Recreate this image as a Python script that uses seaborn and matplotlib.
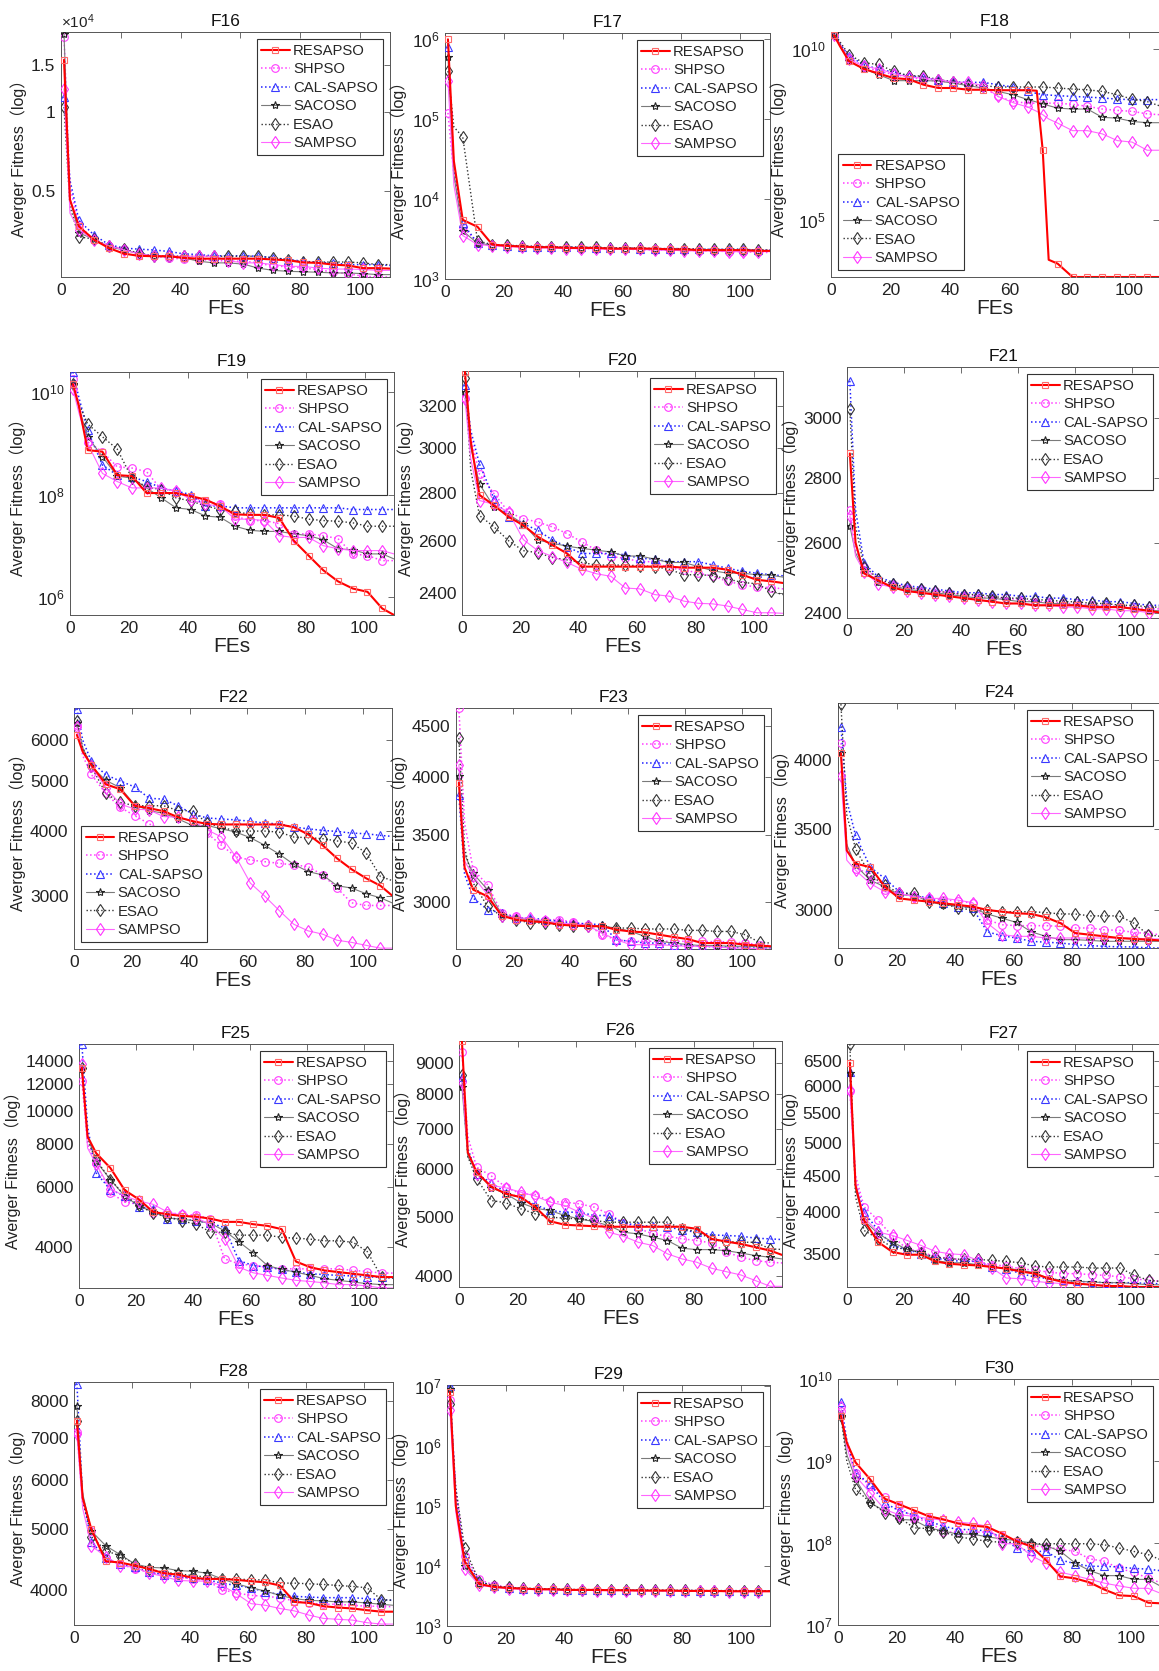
import numpy as np
import pandas as pd
import matplotlib
matplotlib.use('Agg')
import matplotlib.pyplot as plt
import seaborn as sns

sns.set_style('white')
plt.rcParams['font.family'] = ['Liberation Sans', 'Noto Sans CJK SC', 'DejaVu Sans']
plt.rcParams['mathtext.fontset'] = 'custom'
plt.rcParams['mathtext.rm'] = 'Liberation Sans'
plt.rcParams['mathtext.it'] = 'Liberation Sans:italic'
plt.rcParams['axes.unicode_minus'] = False

# FEs where the curves were read (markers sit at 1, 6, 11, ..., 106)
FES = [1, 3, 6, 11, 16, 21, 26, 31, 36, 41, 46, 51, 56, 61, 66, 71, 76, 81, 86, 91, 96, 101, 106, 110]
# F18 has a very sharp drop near FEs 70, so it was read at two extra points
FES_F18 = [1, 3, 6, 11, 16, 21, 26, 31, 36, 41, 46, 51, 56, 61, 66, 69, 71, 73, 76, 81, 86, 91, 96, 101, 106, 110]

ALGOS = ['RESAPSO', 'SHPSO', 'CAL-SAPSO', 'SACOSO', 'ESAO', 'SAMPSO']

# ---------------- F16 ----------------
F16_RESAPSO = [15700, 4650, 3680, 3280, 3050, 2905, 2850, 2840, 2840, 2800, 2780, 2780, 2780, 2780, 2780, 2760, 2740, 2690, 2680, 2640, 2620, 2560, 2560, 2550]
F16_SHPSO = [19200, 5200, 3740, 3260, 3110, 3020, 2900, 2840, 2800, 2770, 2760, 2740, 2720, 2720, 2680, 2600, 2600, 2560, 2530, 2470, 2440, 2385, 2370, 2370]
F16_CAL = [11400, 5500, 3880, 3420, 3140, 3050, 3020, 3000, 2960, 2900, 2880, 2850, 2850, 2850, 2840, 2800, 2760, 2720, 2690, 2680, 2640, 2640, 2640, 2620]
F16_SACOSO = [19700, 4650, 3475, 3300, 3080, 3000, 2900, 2840, 2820, 2800, 2720, 2680, 2680, 2650, 2560, 2510, 2490, 2480, 2470, 2455, 2455, 2440, 2420, 2420]
F16_ESAO = [10400, 4380, 3360, 3300, 3100, 3020, 2920, 2850, 2850, 2840, 2840, 2840, 2840, 2840, 2840, 2800, 2760, 2700, 2700, 2700, 2700, 2680, 2640, 2640]
F16_SAMPSO = [12200, 4130, 3580, 3260, 3110, 3000, 2900, 2850, 2840, 2840, 2840, 2840, 2730, 2680, 2680, 2640, 2600, 2600, 2560, 2540, 2540, 2530, 2510, 2510]

# ---------------- F17 ----------------
F17_RESAPSO = [1.0e6, 3e4, 5500, 4500, 2700, 2600, 2550, 2500, 2500, 2450, 2450, 2450, 2400, 2400, 2400, 2400, 2350, 2350, 2300, 2300, 2300, 2300, 2250, 2250]
F17_SHPSO = [1.2e5, 2e4, 4500, 2900, 2650, 2600, 2550, 2500, 2500, 2450, 2400, 2400, 2400, 2350, 2350, 2300, 2300, 2300, 2250, 2250, 2200, 2200, 2150, 2150]
F17_CAL = [8e5, 2.5e4, 5000, 2800, 2650, 2600, 2550, 2550, 2500, 2500, 2500, 2450, 2450, 2450, 2400, 2400, 2400, 2400, 2350, 2350, 2350, 2350, 2300, 2300]
F17_SACOSO = [6e5, 2e4, 4000, 2800, 2650, 2600, 2550, 2500, 2500, 2450, 2450, 2450, 2400, 2400, 2400, 2350, 2350, 2350, 2300, 2300, 2300, 2250, 2250, 2250]
F17_ESAO = [4e5, 8e4, 6e4, 3000, 2700, 2650, 2600, 2550, 2550, 2500, 2500, 2500, 2450, 2450, 2450, 2400, 2400, 2400, 2350, 2350, 2350, 2350, 2300, 2300]
F17_SAMPSO = [3e5, 1.5e4, 3500, 2700, 2600, 2550, 2500, 2450, 2450, 2400, 2400, 2400, 2350, 2350, 2350, 2300, 2300, 2250, 2250, 2250, 2200, 2200, 2200, 2200]

# ---------------- F18 (read on FES_F18) ----------------
F18_RESAPSO = [2.5e10, 1.2e10, 4.4e9, 2.6e9, 1.9e9, 1.4e9, 1.3e9, 9e8, 7.2e8, 7.2e8, 6.4e8, 6.4e8, 6.2e8, 6.2e8, 6.2e8, 6.0e8, 1.1e7, 7000, 5400, 2200, 2200, 2200, 2200, 2200, 2200, 2200]
F18_SHPSO = [3.3e10, 1.5e10, 5.5e9, 3.1e9, 2.2e9, 1.8e9, 1.5e9, 1.26e9, 1.13e9, 1.06e9, 9e8, 7.7e8, 4.1e8, 2.9e8, 2.6e8, 2.6e8, 2.6e8, 2.6e8, 2.6e8, 2.4e8, 2.1e8, 1.75e8, 1.6e8, 1.5e8, 1.27e8, 1.2e8]
F18_CAL = [2.9e10, 1.4e10, 6.1e9, 3.5e9, 2.5e9, 2.1e9, 1.6e9, 1.5e9, 1.2e9, 1.1e9, 1.05e9, 1.05e9, 9e8, 7.7e8, 5.7e8, 5.0e8, 4.6e8, 4.5e8, 4.3e8, 4.1e8, 3.9e8, 3.7e8, 3.4e8, 3.3e8, 3.3e8, 3.3e8]
F18_SACOSO = [2.9e10, 1.3e10, 4.4e9, 2.6e9, 1.76e9, 1.18e9, 1.18e9, 1.18e9, 1.15e9, 1.0e9, 8.4e8, 7.2e8, 5.7e8, 4.6e8, 3.3e8, 2.8e8, 2.5e8, 2.2e8, 1.87e8, 1.75e8, 1.75e8, 1.0e8, 9.5e7, 7.6e7, 7e7, 7e7]
F18_ESAO = [2.9e10, 1.6e10, 6.8e9, 3.9e9, 3.5e9, 2.2e9, 1.65e9, 1.6e9, 1.26e9, 1.1e9, 9e8, 8.4e8, 7.7e8, 7.7e8, 7.7e8, 7.7e8, 7.7e8, 7.5e8, 7.2e8, 6.7e8, 6.4e8, 5.7e8, 4.6e8, 3.4e8, 2.9e8, 2.2e8]
F18_SAMPSO = [2.6e10, 1.2e10, 4.9e9, 3.1e9, 2.6e9, 1.9e9, 1.5e9, 1.4e9, 1.26e9, 1.06e9, 1.06e9, 8.4e8, 4.1e8, 2.7e8, 2e8, 1.5e8, 1.2e8, 9e7, 6.8e7, 4.1e7, 4.1e7, 3.3e7, 2.1e7, 1.9e7, 1.1e7, 1.1e7]

# ---------------- F19 ----------------
F19_RESAPSO = [1.45e10, 5.5e9, 7.4e8, 6.9e8, 2.4e8, 2.3e8, 1.07e8, 1.07e8, 1.07e8, 9.3e7, 8e7, 5.9e7, 4.1e7, 4e7, 4e7, 3.5e7, 1.25e7, 6.4e6, 3.3e6, 2e6, 1.45e6, 1.25e6, 5.9e5, 4.4e5]
F19_SHPSO = [1.8e10, 6e9, 1.07e9, 6.9e8, 3.5e8, 3.3e8, 2.8e8, 1.25e8, 1.2e8, 8.6e7, 7.5e7, 6.4e7, 3.8e7, 3.1e7, 3.1e7, 2.7e7, 1.7e7, 1.7e7, 1.57e7, 1.37e7, 6.9e6, 6.4e6, 5.1e6, 5.1e6]
F19_CAL = [2.5e10, 8e9, 1.8e9, 3.8e8, 2.4e8, 2.2e8, 1.8e8, 1.35e8, 1.17e8, 1e8, 6e7, 6e7, 5.5e7, 5.5e7, 5.5e7, 5.5e7, 5.5e7, 5.5e7, 5.5e7, 5.5e7, 5.1e7, 5.1e7, 5.1e7, 5.1e7]
F19_SACOSO = [1.45e10, 5e9, 1.35e9, 5.5e8, 2.3e8, 2.1e8, 1.35e8, 8.6e7, 5.5e7, 5.1e7, 3.8e7, 3.6e7, 2.4e7, 2e7, 1.9e7, 1.9e7, 1.7e7, 1.57e7, 1.3e7, 8.7e6, 8.3e6, 6.9e6, 6.9e6, 5.5e6]
F19_ESAO = [1.45e10, 6e9, 2.4e9, 1.35e9, 7.8e8, 2.1e8, 1.4e8, 1.25e8, 8.6e7, 7.5e7, 6e7, 5.1e7, 4.7e7, 4.1e7, 4e7, 4e7, 3.8e7, 3.3e7, 3.1e7, 3e7, 2.8e7, 2.4e7, 2.4e7, 2.4e7]
F19_SAMPSO = [1.16e10, 4e9, 1e9, 2.6e8, 1.8e8, 1.35e8, 1.35e8, 1.35e8, 1.17e8, 8e7, 6.4e7, 6e7, 3.3e7, 3.3e7, 3.1e7, 1.57e7, 1.45e7, 1.45e7, 1e7, 8.7e6, 8e6, 8e6, 8e6, 6.9e6]

# ---------------- F20 ----------------
F20_RESAPSO = [3370, 3030, 2790, 2745, 2697, 2663, 2616, 2583, 2550, 2499, 2499, 2499, 2499, 2499, 2499, 2499, 2495, 2495, 2495, 2487, 2468, 2449, 2443, 2437]
F20_SHPSO = [3240, 3050, 2880, 2795, 2717, 2690, 2676, 2656, 2629, 2596, 2563, 2538, 2531, 2518, 2518, 2493, 2487, 2474, 2462, 2443, 2431, 2421, 2420, 2415]
F20_CAL = [3304, 3080, 2925, 2773, 2697, 2669, 2642, 2603, 2576, 2550, 2550, 2550, 2545, 2531, 2528, 2518, 2518, 2518, 2505, 2493, 2481, 2474, 2468, 2464]
F20_SACOSO = [3270, 3000, 2837, 2738, 2707, 2669, 2603, 2590, 2579, 2570, 2563, 2556, 2540, 2540, 2528, 2515, 2515, 2499, 2483, 2474, 2474, 2468, 2466, 2459]
F20_ESAO = [3340, 2900, 2703, 2656, 2600, 2561, 2553, 2534, 2525, 2515, 2505, 2505, 2505, 2502, 2499, 2489, 2468, 2468, 2465, 2452, 2439, 2434, 2406, 2394]
F20_SAMPSO = [3234, 2950, 2766, 2750, 2717, 2605, 2561, 2538, 2515, 2489, 2472, 2462, 2418, 2415, 2394, 2388, 2370, 2362, 2360, 2352, 2340, 2328, 2328, 2326]

# ---------------- F21 ----------------
F21_RESAPSO = [2880, 2600, 2510, 2490, 2470, 2460, 2455, 2450, 2445, 2440, 2435, 2430, 2425, 2425, 2420, 2420, 2420, 2420, 2415, 2415, 2415, 2410, 2405, 2400]
F21_SHPSO = [2700, 2580, 2530, 2490, 2480, 2470, 2465, 2460, 2455, 2450, 2445, 2440, 2440, 2435, 2430, 2430, 2425, 2425, 2420, 2420, 2415, 2415, 2410, 2410]
F21_CAL = [3130, 2700, 2540, 2500, 2485, 2475, 2470, 2465, 2460, 2455, 2455, 2450, 2450, 2445, 2445, 2440, 2440, 2435, 2435, 2430, 2430, 2425, 2420, 2420]
F21_SACOSO = [2650, 2570, 2520, 2485, 2475, 2465, 2460, 2455, 2450, 2445, 2440, 2440, 2435, 2430, 2430, 2425, 2425, 2420, 2420, 2415, 2415, 2410, 2405, 2405]
F21_ESAO = [3030, 2650, 2530, 2495, 2480, 2470, 2465, 2460, 2455, 2450, 2450, 2445, 2440, 2440, 2435, 2435, 2430, 2430, 2425, 2425, 2420, 2420, 2415, 2415]
F21_SAMPSO = [2680, 2560, 2515, 2480, 2470, 2460, 2455, 2450, 2445, 2440, 2435, 2430, 2425, 2425, 2420, 2420, 2415, 2415, 2410, 2410, 2405, 2405, 2400, 2400]

# ---------------- F22 ----------------
F22_RESAPSO = [6140, 5700, 5370, 4926, 4820, 4478, 4430, 4370, 4254, 4180, 4131, 4120, 4120, 4120, 4120, 4120, 4071, 3942, 3755, 3542, 3375, 3243, 3136, 3003]
F22_SHPSO = [6415, 5600, 5147, 4730, 4445, 4285, 4131, 4000, 3990, 3982, 3965, 3755, 3568, 3516, 3490, 3465, 3440, 3415, 3290, 3104, 2906, 2872, 2872, 2872]
F22_CAL = [6900, 6000, 5458, 5137, 5000, 4868, 4630, 4610, 4478, 4317, 4241, 4222, 4204, 4180, 4143, 4131, 4071, 4041, 4012, 3994, 3965, 3953, 3924, 3907]
F22_SACOSO = [6460, 5800, 5336, 5013, 4854, 4497, 4381, 4330, 4222, 4101, 4101, 4041, 3982, 3884, 3755, 3610, 3450, 3340, 3290, 3136, 3104, 3027, 2972, 2906]
F22_ESAO = [6530, 5800, 5336, 4730, 4544, 4478, 4478, 4478, 4381, 4381, 4143, 4071, 4000, 4000, 4000, 3982, 3896, 3884, 3867, 3828, 3794, 3632, 3267, 3210]
F22_SAMPSO = [6370, 5700, 5336, 4854, 4511, 4413, 4394, 4267, 4254, 4192, 4024, 3896, 3568, 3173, 2993, 2808, 2642, 2565, 2528, 2460, 2437, 2405, 2375, 2375]

# ---------------- F23 ----------------
F23_RESAPSO = [3950, 3250, 3089, 3042, 2909, 2883, 2872, 2866, 2850, 2844, 2840, 2840, 2817, 2806, 2800, 2785, 2770, 2757, 2732, 2732, 2732, 2722, 2716, 2712]
F23_SHPSO = [4690, 3600, 3234, 3124, 2927, 2905, 2883, 2883, 2883, 2866, 2850, 2785, 2753, 2743, 2743, 2743, 2743, 2743, 2743, 2740, 2740, 2732, 2722, 2716]
F23_CAL = [3836, 3200, 3030, 2950, 2927, 2894, 2894, 2883, 2872, 2861, 2855, 2850, 2753, 2743, 2732, 2732, 2722, 2716, 2712, 2708, 2708, 2701, 2701, 2701]
F23_SACOSO = [4008, 3350, 3206, 3089, 2916, 2894, 2883, 2872, 2861, 2855, 2844, 2840, 2828, 2806, 2774, 2743, 2732, 2722, 2716, 2716, 2712, 2712, 2708, 2708]
F23_ESAO = [4377, 3400, 3136, 2973, 2905, 2883, 2861, 2861, 2850, 2844, 2840, 2836, 2828, 2828, 2822, 2822, 2822, 2813, 2813, 2806, 2806, 2785, 2736, 2732]
F23_SAMPSO = [4117, 3300, 3185, 3053, 2909, 2894, 2894, 2872, 2861, 2855, 2844, 2796, 2753, 2722, 2722, 2722, 2716, 2712, 2712, 2708, 2701, 2701, 2695, 2695]

# ---------------- F24 ----------------
F24_RESAPSO = [4050, 3362, 3278, 3257, 3136, 3067, 3057, 3048, 3038, 3029, 3019, 3000, 2990, 2981, 2977, 2958, 2925, 2870, 2861, 2852, 2843, 2838, 2834, 2830]
F24_SHPSO = [4130, 3400, 3247, 3217, 3116, 3097, 3077, 3067, 3057, 3053, 3038, 2944, 2916, 2911, 2911, 2911, 2907, 2898, 2898, 2888, 2885, 2874, 2867, 2861]
F24_CAL = [4263, 3700, 3460, 3257, 3186, 3106, 3087, 3067, 3038, 3019, 3010, 2877, 2855, 2843, 2825, 2820, 2816, 2807, 2802, 2798, 2795, 2795, 2789, 2789]
F24_SACOSO = [4051, 3400, 3268, 3176, 3136, 3087, 3087, 3048, 3029, 3023, 3010, 2977, 2953, 2929, 2877, 2852, 2834, 2834, 2830, 2825, 2825, 2825, 2825, 2825]
F24_ESAO = [4450, 3600, 3373, 3206, 3146, 3097, 3097, 3048, 3038, 3010, 3000, 3000, 2990, 2990, 2990, 2985, 2977, 2977, 2966, 2966, 2966, 2925, 2861, 2852]
F24_SAMPSO = [3876, 3300, 3237, 3156, 3106, 3097, 3077, 3067, 3067, 3057, 3042, 2925, 2861, 2852, 2852, 2843, 2843, 2843, 2843, 2843, 2843, 2843, 2838, 2838]

# ---------------- F25 ----------------
F25_RESAPSO = [13400, 8421, 7537, 6820, 5875, 5521, 5073, 4995, 4940, 4918, 4853, 4747, 4747, 4673, 4622, 4520, 3635, 3500, 3424, 3386, 3349, 3312, 3275, 3275]
F25_SHPSO = [12240, 8000, 7050, 5772, 5426, 5340, 5051, 5051, 4995, 4962, 4853, 3701, 3579, 3540, 3500, 3462, 3462, 3462, 3462, 3462, 3424, 3400, 3364, 3364]
F25_CAL = [15700, 9000, 6595, 5900, 5645, 5258, 5165, 4853, 4853, 4778, 4705, 4570, 3660, 3540, 3500, 3447, 3386, 3349, 3330, 3312, 3300, 3275, 3275, 3255]
F25_SACOSO = [13280, 8500, 7130, 6309, 5645, 5281, 5073, 4875, 4832, 4778, 4705, 4470, 4153, 3855, 3540, 3447, 3386, 3312, 3239, 3203, 3168, 3133, 3113, 3113]
F25_ESAO = [13400, 8200, 7200, 6309, 5670, 5305, 5030, 4918, 4778, 4673, 4440, 4421, 4342, 4342, 4342, 4275, 4253, 4228, 4180, 4180, 4138, 3886, 3275, 3255]
F25_SAMPSO = [13700, 7800, 7000, 5925, 5645, 5465, 5340, 5073, 4962, 4875, 4673, 4228, 3500, 3371, 3312, 3255, 3203, 3180, 3150, 3113, 3113, 3085, 3043, 3043]

# ---------------- F26 ----------------
F26_RESAPSO = [9780, 6400, 5937, 5615, 5465, 5396, 5194, 4922, 4857, 4842, 4830, 4820, 4820, 4820, 4820, 4820, 4820, 4781, 4602, 4555, 4514, 4457, 4400, 4329]
F26_SHPSO = [9390, 6800, 6050, 5850, 5603, 5465, 5450, 5308, 5294, 5260, 5194, 5063, 4892, 4793, 4690, 4650, 4602, 4573, 4530, 4378, 4290, 4236, 4209, 4198]
F26_CAL = [8536, 6500, 5900, 5700, 5488, 5383, 5240, 5128, 5095, 5095, 5031, 5031, 4892, 4842, 4830, 4820, 4758, 4720, 4673, 4661, 4650, 4614, 4602, 4590]
F26_SACOSO = [8215, 6300, 5937, 5590, 5465, 5281, 5172, 5128, 5031, 4967, 4915, 4842, 4720, 4690, 4632, 4573, 4440, 4417, 4417, 4400, 4360, 4318, 4290, 4263]
F26_ESAO = [8586, 6300, 5788, 5327, 5281, 5161, 5063, 4999, 4980, 4967, 4935, 4904, 4904, 4904, 4904, 4904, 4781, 4733, 4590, 4555, 4543, 4543, 4429, 4420]
F26_SAMPSO = [8374, 6400, 5900, 5642, 5590, 5500, 5417, 5294, 5227, 5095, 4980, 4720, 4650, 4543, 4486, 4346, 4263, 4209, 4114, 4061, 4010, 3924, 3840, 3840]

# ---------------- F27 ----------------
F27_RESAPSO = [6470, 4358, 3895, 3633, 3519, 3489, 3489, 3415, 3389, 3378, 3371, 3354, 3336, 3307, 3283, 3230, 3196, 3179, 3168, 3155, 3155, 3145, 3145, 3145]
F27_SHPSO = [5900, 4500, 4070, 3895, 3703, 3556, 3526, 3463, 3452, 3426, 3415, 3378, 3364, 3336, 3318, 3300, 3283, 3283, 3272, 3265, 3248, 3230, 3213, 3203]
F27_CAL = [6280, 4400, 4000, 3772, 3595, 3549, 3500, 3452, 3426, 3415, 3415, 3354, 3336, 3283, 3248, 3230, 3213, 3203, 3196, 3189, 3189, 3189, 3179, 3179]
F27_SACOSO = [6250, 4300, 3895, 3732, 3633, 3549, 3519, 3426, 3400, 3400, 3378, 3354, 3343, 3318, 3293, 3230, 3213, 3203, 3196, 3189, 3189, 3179, 3168, 3168]
F27_ESAO = [6866, 4200, 3772, 3672, 3575, 3549, 3511, 3463, 3444, 3437, 3437, 3426, 3415, 3400, 3364, 3354, 3354, 3354, 3343, 3343, 3343, 3265, 3213, 3203]
F27_SAMPSO = [5920, 4400, 3930, 3752, 3712, 3654, 3595, 3526, 3500, 3489, 3426, 3343, 3237, 3230, 3203, 3189, 3179, 3179, 3168, 3162, 3155, 3145, 3145, 3145]

# ---------------- F28 ----------------
F28_RESAPSO = [7450, 5610, 5000, 4450, 4430, 4380, 4325, 4260, 4237, 4188, 4172, 4172, 4158, 4137, 4120, 4073, 3835, 3820, 3775, 3757, 3744, 3720, 3700, 3700]
F28_SHPSO = [7140, 5500, 4970, 4500, 4405, 4325, 4275, 4237, 4198, 4172, 4148, 4010, 3962, 3928, 3914, 3895, 3848, 3820, 3802, 3802, 3788, 3775, 3775, 3766]
F28_CAL = [8530, 5600, 4780, 4500, 4405, 4353, 4275, 4237, 4198, 4188, 4158, 4108, 4073, 4039, 3976, 3942, 3914, 3904, 3895, 3895, 3895, 3880, 3866, 3858]
F28_SACOSO = [7867, 5700, 4970, 4708, 4558, 4405, 4353, 4342, 4301, 4290, 4260, 4172, 4098, 4039, 3990, 3928, 3880, 3858, 3848, 3835, 3835, 3820, 3802, 3788]
F28_ESAO = [7450, 5600, 4870, 4624, 4540, 4405, 4325, 4275, 4249, 4223, 4198, 4172, 4172, 4158, 4158, 4108, 4108, 4098, 4088, 4073, 4059, 4039, 3866, 3858]
F28_SAMPSO = [7100, 5400, 4708, 4525, 4380, 4353, 4260, 4208, 4148, 4140, 4138, 4073, 3952, 3811, 3788, 3744, 3711, 3654, 3610, 3598, 3588, 3554, 3536, 3536]

# ---------------- F29 ----------------
F29_RESAPSO = [8e6, 1e5, 1.2e4, 5000, 4500, 4300, 4200, 4100, 4100, 4000, 4000, 4000, 3950, 3950, 3900, 3900, 3900, 3850, 3850, 3850, 3800, 3800, 3800, 3800]
F29_SHPSO = [6e6, 2e5, 1.5e4, 6000, 4800, 4400, 4200, 4100, 4050, 4000, 4000, 3950, 3950, 3900, 3900, 3900, 3850, 3850, 3850, 3800, 3800, 3800, 3800, 3800]
F29_CAL = [1e7, 1.5e5, 1.3e4, 5500, 4600, 4300, 4200, 4150, 4100, 4050, 4000, 4000, 4000, 3950, 3950, 3950, 3900, 3900, 3900, 3850, 3850, 3850, 3850, 3850]
F29_SACOSO = [9e6, 1.2e5, 1e4, 5000, 4500, 4300, 4200, 4100, 4050, 4000, 4000, 3950, 3950, 3900, 3900, 3900, 3850, 3850, 3850, 3850, 3800, 3800, 3800, 3800]
F29_ESAO = [5e6, 2e5, 2e4, 5500, 4700, 4400, 4300, 4200, 4150, 4100, 4050, 4050, 4000, 4000, 4000, 3950, 3950, 3950, 3900, 3900, 3900, 3900, 3850, 3850]
F29_SAMPSO = [4e6, 8e4, 9000, 4800, 4400, 4200, 4100, 4050, 4000, 3950, 3950, 3900, 3900, 3900, 3850, 3850, 3850, 3800, 3800, 3800, 3750, 3750, 3750, 3750]

# ---------------- F30 ----------------
F30_RESAPSO = [3.56e9, 1.68e9, 9.6e8, 5.97e8, 3.46e8, 2.95e8, 2.5e8, 2.12e8, 1.94e8, 1.73e8, 1.63e8, 1.57e8, 1.3e8, 1.05e8, 9.1e7, 6.2e7, 3.91e7, 3.7e7, 3.3e7, 2.7e7, 2.3e7, 2.25e7, 1.87e7, 1.84e7]
F30_SHPSO = [4.1e9, 1.6e9, 7.1e8, 5e8, 3.6e8, 2.8e8, 1.98e8, 1.85e8, 1.36e8, 1.36e8, 1.36e8, 1.36e8, 1.21e8, 1.07e8, 9.3e7, 8.9e7, 8.4e7, 7.9e7, 6.4e7, 6e7, 4.9e7, 4.4e7, 3.7e7, 3.3e7]
F30_CAL = [5.2e9, 1.8e9, 7.2e8, 5.2e8, 3.09e8, 2.45e8, 2.2e8, 1.85e8, 1.6e8, 1.46e8, 1.46e8, 1.4e8, 1.16e8, 8.7e7, 7.9e7, 7.9e7, 6.2e7, 5.6e7, 5.2e7, 5.2e7, 5.1e7, 4.9e7, 4.8e7, 4.6e7]
F30_SACOSO = [3.56e9, 1.2e9, 5.97e8, 3.09e8, 2.45e8, 1.94e8, 1.9e8, 1.53e8, 1.4e8, 1.28e8, 1.28e8, 1.19e8, 1.12e8, 1.07e8, 1e8, 9.3e7, 7.9e7, 5.7e7, 4.6e7, 4e7, 4e7, 3.6e7, 3.6e7, 3e7]
F30_ESAO = [3.56e9, 1.0e9, 4.5e8, 3.15e8, 2.34e8, 2.03e8, 1.53e8, 1.5e8, 1.36e8, 1.19e8, 1.12e8, 1.05e8, 1.02e8, 1.02e8, 9.8e7, 9.8e7, 9.8e7, 9.8e7, 9.8e7, 9.5e7, 8.7e7, 7.9e7, 7.2e7, 6.3e7]
F30_SAMPSO = [4.5e9, 1.5e9, 6.55e8, 4.1e8, 2.56e8, 2.2e8, 2.12e8, 1.98e8, 1.9e8, 1.8e8, 1.73e8, 1.6e8, 9.8e7, 9.8e7, 7e7, 5.7e7, 4.4e7, 4e7, 3.6e7, 3.24e7, 3e7, 2.8e7, 2.8e7, 2.45e7]

# line styles, MATLAB-like
STYLES = {
    'RESAPSO':   dict(color='#ff0000', linestyle='-', linewidth=1.5, marker='s', markersize=5,
                      markeredgecolor='#ff6a6a', zorder=4),
    'SHPSO':     dict(color='#ff3cff', linestyle=':', linewidth=1.1, marker='o', markersize=5.5,
                      markeredgecolor='#ff3cff', zorder=3),
    'CAL-SAPSO': dict(color='#1f1fff', linestyle=':', linewidth=1.1, marker='^', markersize=5.5,
                      markeredgecolor='#3a3aff', zorder=3),
    'SACOSO':    dict(color='#7a7a7a', linestyle='-', linewidth=0.8, marker='*', markersize=6,
                      markeredgecolor='#222222', zorder=3),
    'ESAO':      dict(color='#333333', linestyle=':', linewidth=1.0, marker='d', markersize=6,
                      markeredgecolor='#333333', zorder=3),
    'SAMPSO':    dict(color='#ff66ff', linestyle='-', linewidth=0.8, marker='d', markersize=6,
                      markeredgecolor='#ff33ff', zorder=3),
}


def dec(lo, hi):
    return [10.0 ** k for k in range(lo, hi + 1)]


def dec_labels(lo, hi):
    return [r'$10^{%d}$' % k for k in range(lo, hi + 1)]


def lin_labels(ticks):
    return [str(t) for t in ticks]


T20 = [2400, 2600, 2800, 3000, 3200]
T21 = [2400, 2600, 2800, 3000]
T22 = [3000, 4000, 5000, 6000]
T23 = [3000, 3500, 4000, 4500]
T24 = [3000, 3500, 4000]
T25 = [4000, 6000, 8000, 10000, 12000, 14000]
T26 = [4000, 5000, 6000, 7000, 8000, 9000]
T27 = [3500, 4000, 4500, 5000, 5500, 6000, 6500]
T28 = [4000, 5000, 6000, 7000, 8000]

# title, x grid, curves, ylim, yticks, yticklabels, legend loc, axes box in pixels (left, top, right, bottom)
PANELS = [
    ('F16', FES, [F16_RESAPSO, F16_SHPSO, F16_CAL, F16_SACOSO, F16_ESAO, F16_SAMPSO], (2370, 20000),
     [5000, 10000, 15000], ['0.5', '1', '1.5'], 'upper right', (61, 32, 390, 277)),
    ('F17', FES, [F17_RESAPSO, F17_SHPSO, F17_CAL, F17_SACOSO, F17_ESAO, F17_SAMPSO], (1000, 1.2e6),
     dec(3, 6), dec_labels(3, 6), 'upper right', (445, 33, 770, 279)),
    ('F18', FES_F18, [F18_RESAPSO, F18_SHPSO, F18_CAL, F18_SACOSO, F18_ESAO, F18_SAMPSO], (2200, 3.1e10),
     [1e5, 1e10], [r'$10^{5}$', r'$10^{10}$'], 'lower left', (831, 32, 1159, 277)),
    ('F19', FES, [F19_RESAPSO, F19_SHPSO, F19_CAL, F19_SACOSO, F19_ESAO, F19_SAMPSO], (4.4e5, 2.5e10),
     [1e6, 1e8, 1e10], [r'$10^{6}$', r'$10^{8}$', r'$10^{10}$'], 'upper right', (70, 372, 394, 615)),
    ('F20', FES, [F20_RESAPSO, F20_SHPSO, F20_CAL, F20_SACOSO, F20_ESAO, F20_SAMPSO], (2320, 3375),
     T20, lin_labels(T20), 'upper right', (462, 371, 783, 615)),
    ('F21', FES, [F21_RESAPSO, F21_SHPSO, F21_CAL, F21_SACOSO, F21_ESAO, F21_SAMPSO], (2385, 3180),
     T21, lin_labels(T21), 'upper right', (847, 367, 1160, 618)),
    ('F22', FES, [F22_RESAPSO, F22_SHPSO, F22_CAL, F22_SACOSO, F22_ESAO, F22_SAMPSO], (2366, 6920),
     T22, lin_labels(T22), 'lower left', (74, 708, 392, 949)),
    ('F23', FES, [F23_RESAPSO, F23_SHPSO, F23_CAL, F23_SACOSO, F23_ESAO, F23_SAMPSO], (2695, 4690),
     T23, lin_labels(T23), 'upper right', (456, 708, 771, 949)),
    ('F24', FES, [F24_RESAPSO, F24_SHPSO, F24_CAL, F24_SACOSO, F24_ESAO, F24_SAMPSO], (2789, 4460),
     T24, lin_labels(T24), 'upper right', (838, 703, 1160, 948)),
    ('F25', FES, [F25_RESAPSO, F25_SHPSO, F25_CAL, F25_SACOSO, F25_ESAO, F25_SAMPSO], (3043, 15700),
     T25, lin_labels(T25), 'upper right', (79, 1044, 393, 1288)),
    ('F26', FES, [F26_RESAPSO, F26_SHPSO, F26_CAL, F26_SACOSO, F26_ESAO, F26_SAMPSO], (3830, 9790),
     T26, lin_labels(T26), 'upper right', (459, 1041, 782, 1287)),
    ('F27', FES, [F27_RESAPSO, F27_SHPSO, F27_CAL, F27_SACOSO, F27_ESAO, F27_SAMPSO], (3145, 6870),
     T27, lin_labels(T27), 'upper right', (847, 1044, 1160, 1287)),
    ('F28', FES, [F28_RESAPSO, F28_SHPSO, F28_CAL, F28_SACOSO, F28_ESAO, F28_SAMPSO], (3524, 8580),
     T28, lin_labels(T28), 'upper right', (74, 1382, 393, 1625)),
    ('F29', FES, [F29_RESAPSO, F29_SHPSO, F29_CAL, F29_SACOSO, F29_ESAO, F29_SAMPSO], (1000, 1.05e7),
     dec(3, 7), dec_labels(3, 7), 'upper right', (447, 1385, 770, 1626)),
    ('F30', FES, [F30_RESAPSO, F30_SHPSO, F30_CAL, F30_SACOSO, F30_ESAO, F30_SAMPSO], (1e7, 1e10),
     dec(7, 10), dec_labels(7, 10), 'upper right', (838, 1379, 1160, 1625)),
]

W, H = 1159, 1671
fig = plt.figure(figsize=(W / 100, H / 100), dpi=100)
fig.patch.set_facecolor('white')

for title, xs, curves, ylim, yticks, ylabels, loc, (l, t, r, b) in PANELS:
    ax = fig.add_axes([l / W, 1 - b / H, (r - l) / W, (b - t) / H])
    # markers only at FEs 1, 6, 11, ..., 106
    mark_idx = [i for i, x in enumerate(xs) if (x - 1) % 5 == 0 and x <= 106]
    for name, vals in zip(ALGOS, curves):
        sns.lineplot(x=xs, y=vals, ax=ax, label=name, errorbar=None,
                     markevery=mark_idx, markerfacecolor='none',
                     markeredgewidth=0.8, **STYLES[name])
    ax.set_yscale('log')
    ax.set_xlim(0, 110)
    ax.set_ylim(*ylim)
    ax.set_xticks([0, 20, 40, 60, 80, 100])
    ax.set_yticks(yticks)
    ax.set_yticklabels(ylabels)
    ax.minorticks_off()

    ax.set_title(title, fontsize=12.5, pad=4, color='#111111')
    ax.set_xlabel('FEs', fontsize=15, labelpad=1, color='#222222')
    ax.set_ylabel('Averger Fitness（log）', fontsize=11.5, labelpad=3, color='#222222')

    ax.tick_params(which='both', direction='in', top=True, right=True, length=4,
                   width=0.6, color='#555555', labelcolor='#222222', labelsize=12.5, pad=4)
    for sp in ax.spines.values():
        sp.set_color('#555555')
        sp.set_linewidth(0.7)

    handles, labels = ax.get_legend_handles_labels()
    leg = ax.legend(handles, labels, loc=loc, fontsize=10.7, frameon=True, fancybox=False,
                    edgecolor='#333333', framealpha=1, borderpad=0.3, labelspacing=0.3,
                    handlelength=1.9, handletextpad=0.25, borderaxespad=0.5)
    leg.get_frame().set_linewidth(0.8)
    leg.set_zorder(10)

    if title == 'F16':
        ax.text(0.0, 1.005, r'$\times10^{4}$', transform=ax.transAxes, ha='left',
                va='bottom', fontsize=11, color='#222222')

fig.savefig('out.png', dpi=100, facecolor='white')
